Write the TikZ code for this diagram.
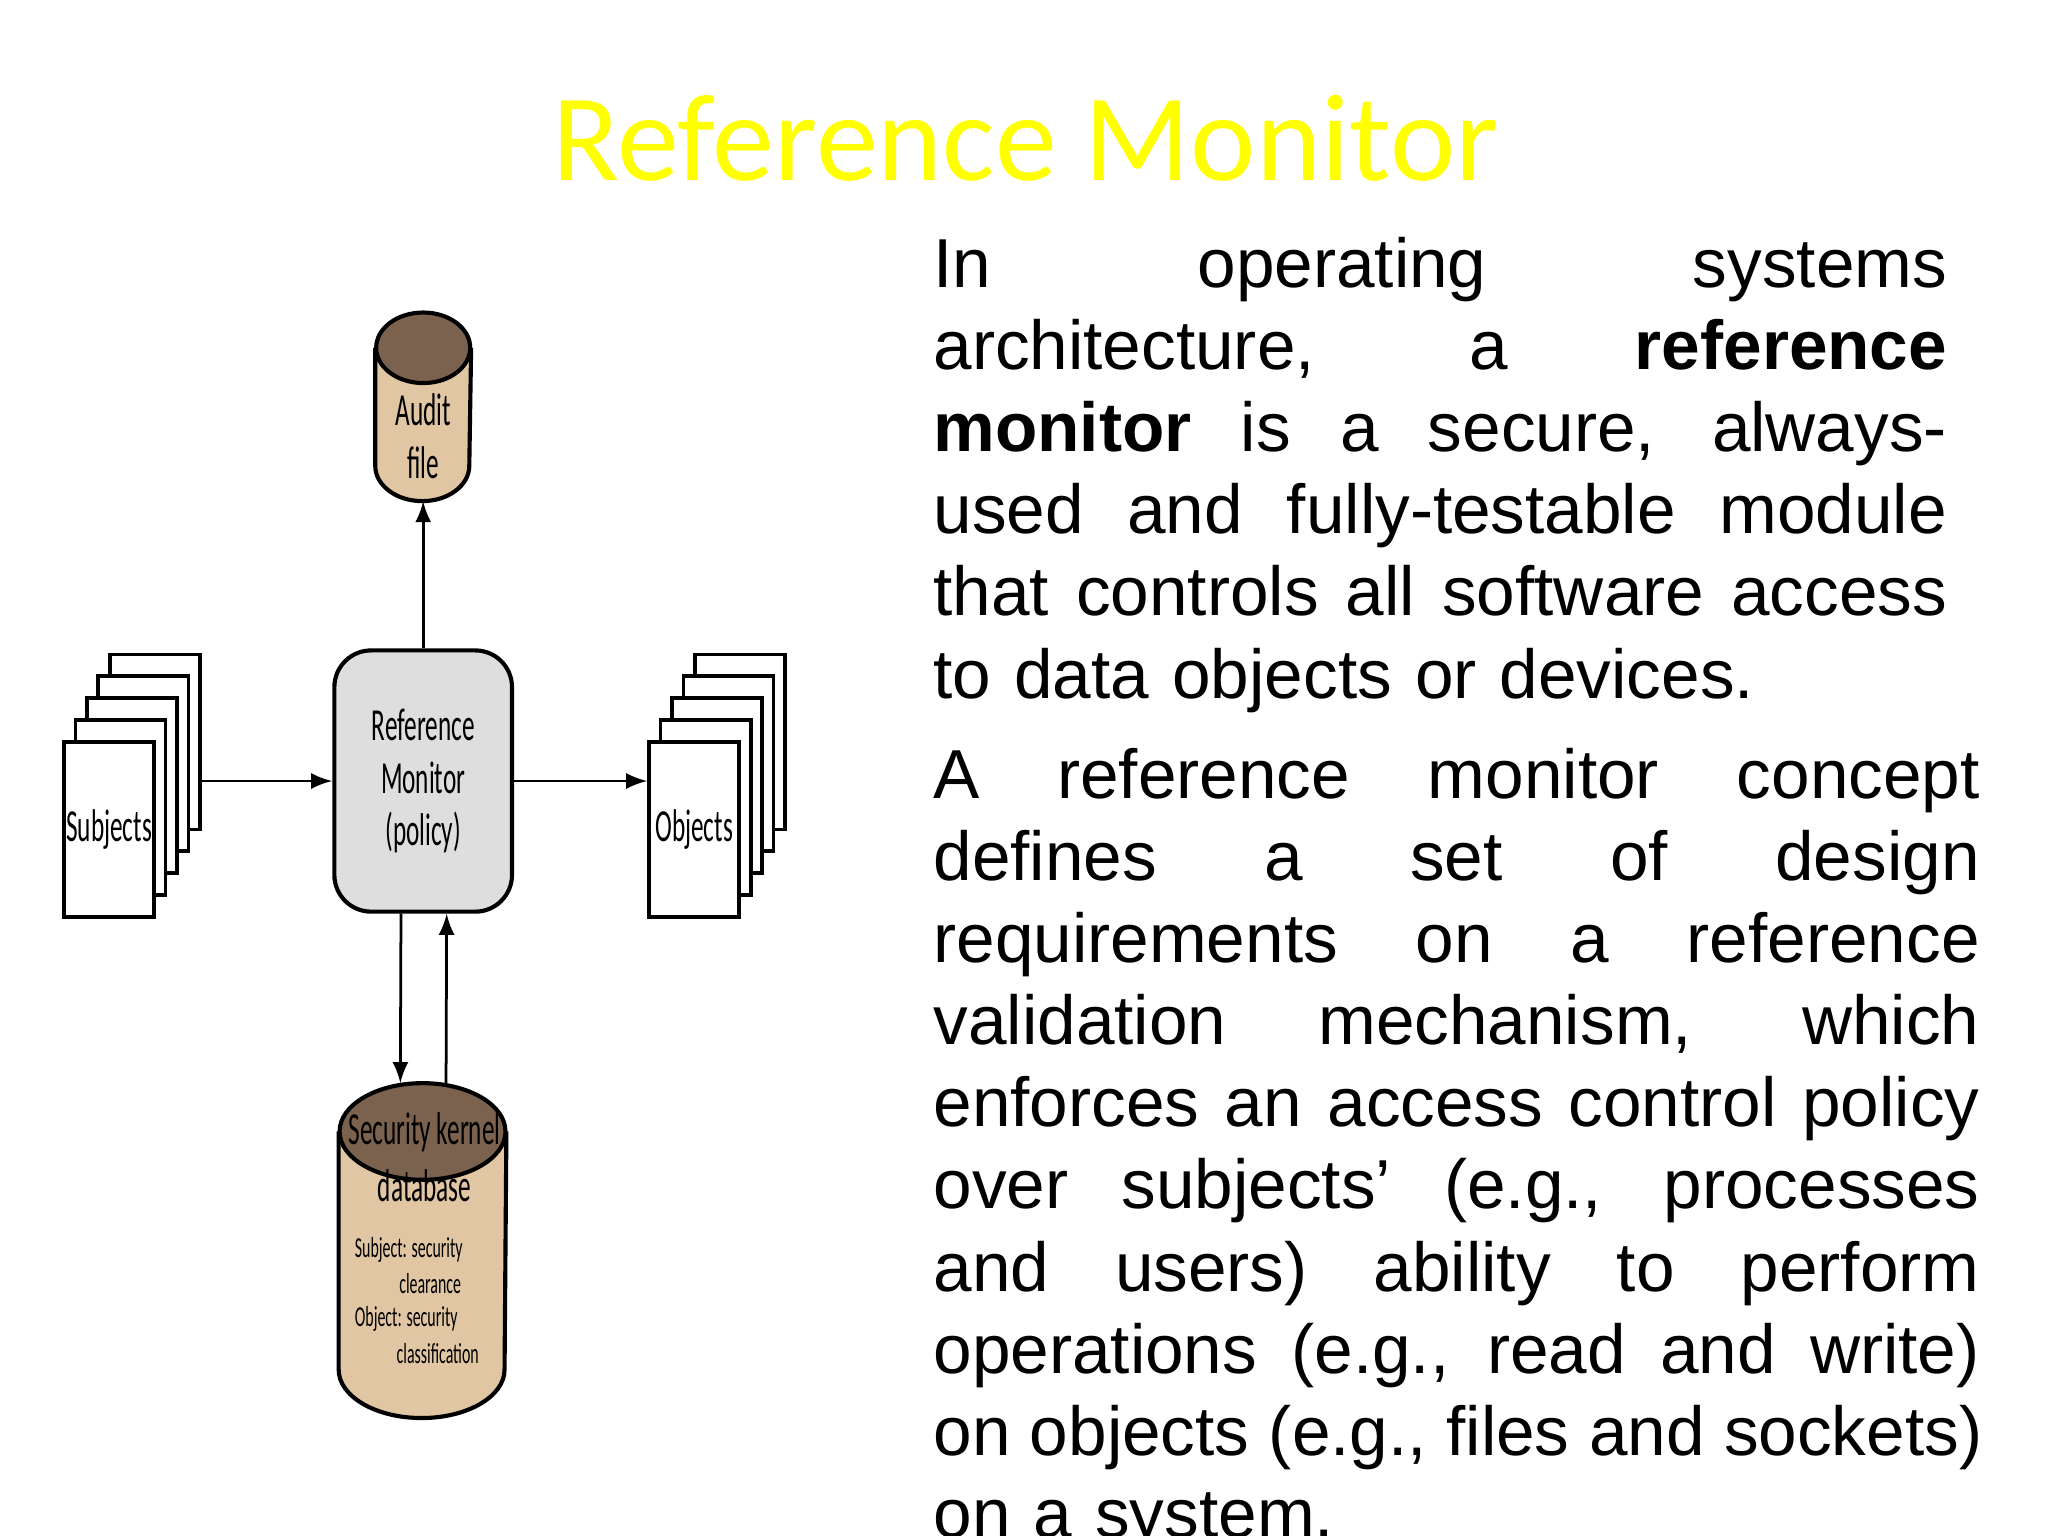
\documentclass[tikz,border=0pt]{standalone}
\usepackage{fontspec}
\setmainfont{Liberation Sans}
\newfontfamily\titlefont{Carlito}
\newfontfamily\figfont{Carlito}[FakeStretch=0.55]
\definecolor{tan}{RGB}{224,198,162}
\definecolor{darktan}{RGB}{122,98,78}
\definecolor{titleyellow}{RGB}{255,255,0}
% one justified line of the given width
\newcommand{\fl}[1]{\leavevmode\hbox to \parw{\spaceskip=0.28em plus 1fil\relax #1}}
% cylinder drawn around a named node: #1 name, #2 half height of the end ellipse
\newcommand{\drum}[2]{%
  \draw[fill=tan, line width=0.9pt] ([yshift=-#2]#1.north west) -- ([yshift=#2]#1.south west)
    arc[start angle=180, end angle=360, x radius=\drumrx, y radius=#2]
    -- ([yshift=-#2]#1.north east);
  \draw[fill=darktan, line width=0.9pt] ([yshift=-#2]#1.north) ellipse[x radius=\drumrx, y radius=#2];}
\tikzset{
  page/.style={draw, fill=white, line width=0.8pt, minimum width=0.69cm,
    minimum height=1.34cm, inner sep=0pt},
  box/.style={inner sep=0pt},
  conn/.style={->, >=latex, line width=0.6pt},
  lbl/.style={font=\figfont\fontsize{10}{11.5}\selectfont, align=center},
  small/.style={anchor=west, inner sep=0pt, font=\figfont\fontsize{6.3}{7}\selectfont},
  para/.style={anchor=base west, align=left, inner sep=0pt,
    font=\fontsize{15.1}{17.9}\selectfont}
}
\begin{document}
\begin{tikzpicture}
  \useasboundingbox (0,0) rectangle (15.68,11.76);
  \node[anchor=base, text=titleyellow, font=\titlefont\fontsize{27}{28}\selectfont]
    (title) at (7.85,10.38) {Reference Monitor};

  % stacks of pages
  \foreach \i in {4,3,2,1} {
    \node[page] (s\i) at (0.835+0.0875*\i,5.41+0.1675*\i) {};
    \node[page] (o\i) at (5.315+0.0875*\i,5.41+0.1675*\i) {};
  }
  \node[page, lbl] (subj) at (0.835,5.41) {Subjects};
  \node[page, lbl] (obj) at (5.315,5.41) {Objects};

  \node[draw, rounded corners=8pt, fill=black!13, line width=0.9pt,
    minimum width=1.36cm, minimum height=2cm, lbl] (rm) at (3.24,5.78)
    {Reference\\[0pt]Monitor\\[0pt](policy)};

  \node[box, minimum width=0.72cm, minimum height=1.43cm] (audit) at (3.24,8.645) {};
  \def\drumrx{0.36cm}\drum{audit}{0.27cm}
  \node[lbl] at (3.24,8.42) {Audit\\file};

  \node[box, minimum width=1.27cm, minimum height=2.55cm] (kernel) at (3.235,2.185) {};
  \def\drumrx{0.635cm}\drum{kernel}{0.37cm}
  \node[lbl] at (3.25,2.9) {Security kernel\\[1pt]database};
  \node[small] at (2.71,2.19) {Subject: security};
  \node[small] at (3.05,1.93) {clearance};
  \node[small] at (2.71,1.66) {Object: security};
  \node[small] at (3.03,1.4) {classification};

  \draw[conn] (s4.east |- rm) -- (rm.west);
  \draw[conn] (rm.east) -- (obj.west |- rm);
  \draw[conn] (rm.north) -- (audit.south);
  \draw[conn] ([xshift=-1.7mm]rm.south) -- ([xshift=-1.7mm]kernel.north);
  \draw[conn] ([xshift=1.8mm]kernel.north) -- ([xshift=1.8mm]rm.south);

  % text
  \def\parw{7.76cm}
  \node[para, text width=7.76cm] (para1) at (7.14,9.56)
    {\fl{In operating systems}\\ \fl{architecture, a \textbf{reference}}\\
     \fl{\textbf{monitor} is a secure, always-}\\ \fl{used and fully-testable module}\\
     \fl{that controls all software access}\\ to data objects or devices.};
  \def\parw{8.01cm}
  \node[para, text width=8.01cm] (para2) at (7.14,5.65)
    {\fl{A reference monitor concept}\\ \fl{defines a set of design}\\
     \fl{requirements on a reference}\\ \fl{validation mechanism, which}\\
     \fl{enforces an access control policy}\\ \fl{over subjects' (e.g., processes}\\
     \fl{and users) ability to perform}\\ \fl{operations (e.g., read and write)}\\
     \fl{on objects (e.g., files and sockets)}\\ on a system.};
\end{tikzpicture}
\end{document}
